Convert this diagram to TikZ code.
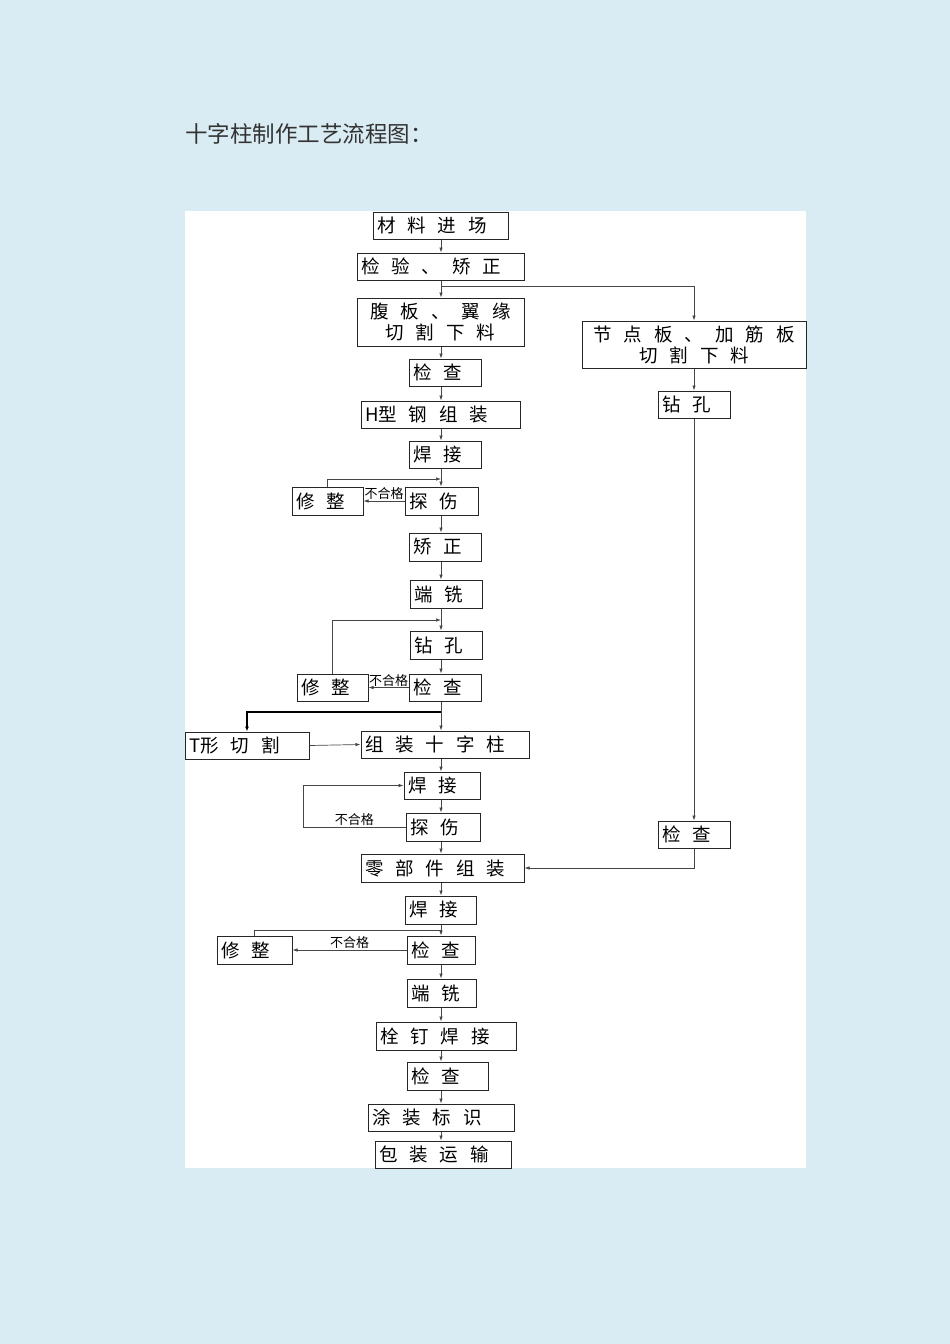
\documentclass[tikz,border=0pt]{standalone}
\usepackage{fontspec}
\newfontfamily\cjk{Noto Sans CJK SC}
\usetikzlibrary{arrows.meta}
\definecolor{pagebg}{RGB}{218,236,243}
\definecolor{linegray}{RGB}{70,70,70}
\newcommand\boxfont{\cjk\fontsize{18.5}{21}\selectfont}
\tikzset{
box/.style={draw=black!85, line width=1pt, align=left, inner xsep=4pt, inner ysep=0pt, minimum height=27pt, font=\boxfont, execute at begin node={\spaceskip=12pt\relax}}, % every step of the flow
flow/.style={draw=linegray, line width=0.7pt, -{Latex[length=5pt,width=3.5pt]}}, % directed connector
link/.style={draw=linegray, line width=0.7pt}, % connector with no tip
fail/.style={font=\cjk\fontsize{13}{13}\selectfont, inner sep=1pt, above}, % rejected label
}

\begin{document}
\begin{tikzpicture}[x=1pt,y=-1pt]
   \fill[pagebg] (0,0) rectangle (950,1344);
   \fill[white] (185,211) rectangle (806,1168);
   \node[anchor=west, inner sep=0pt, text=black!80, font=\cjk\fontsize{22.5}{24}\selectfont] (title) at (185,134) {十字柱制作工艺流程图：};
   \coordinate (spine) at (441,0);
   \coordinate (split) at (441,286);
   \coordinate (back1) at (441,479);
   \coordinate (back2) at (441,620);
   \coordinate (fork) at (441,712);
   \coordinate (loopx) at (303,0);
   \coordinate (back3) at (441,930);
   % main column
   \node[box, text width=127pt] (load) at (440.5,225.5) {材 料 进 场};
   \node[box, text width=159pt] (check0) at (440.5,266.5) {检 验 、 矫 正};
   \node[box, text width=159pt, align=center, minimum height=48pt] (cutweb) at (440.5,322) {腹 板 、 翼 缘\\切 割 下 料};
   \node[box, text width=64pt] (check1) at (445,372.5) {检 查};
   \node[box, text width=151pt] (hbeam) at (440.5,414.5) {H型 钢 组 装};
   \node[box, text width=64pt] (weld1) at (445,454.5) {焊 接};
   \node[box, text width=65pt, minimum height=28pt] (ut1) at (441.5,501) {探 伤};
   \node[box, text width=63pt, minimum height=28pt] (fix1) at (327.5,501) {修 整};
   \node[box, text width=64pt, minimum height=28pt] (straight) at (445,547) {矫 正};
   \node[box, text width=64pt, minimum height=28pt] (mill1) at (446,594) {端 铣};
   \node[box, text width=64pt, minimum height=28pt] (drill1) at (446,645) {钻 孔};
   \node[box, text width=64pt] (check2) at (445,687.5) {检 查};
   \node[box, text width=63pt] (fix2) at (332.5,687.5) {修 整};
   \node[box, text width=116pt] (tcut) at (247,745.5) {T形 切 割};
   \node[box, text width=160pt] (cross) at (445,744.5) {组 装 十 字 柱};
   \node[box, text width=68pt] (weld2) at (442,785.5) {焊 接};
   \node[box, text width=66pt, minimum height=28pt] (ut2) at (443,827) {探 伤};
   \node[box, text width=155pt, minimum height=28pt] (parts) at (442.5,868) {零 部 件 组 装};
   \node[box, text width=63pt, minimum height=28pt] (weld3) at (440.5,910) {焊 接};
   \node[box, text width=60pt, minimum height=28pt] (check4) at (441,950) {检 查};
   \node[box, text width=67pt, minimum height=28pt] (fix3) at (254.5,950) {修 整};
   \node[box, text width=61pt, minimum height=28pt] (mill2) at (441.5,993) {端 铣};
   \node[box, text width=132pt, minimum height=28pt] (stud) at (446,1036) {栓 钉 焊 接};
   \node[box, text width=73pt, minimum height=28pt] (check5) at (447.5,1076) {检 查};
   \node[box, text width=138pt] (paint) at (441,1117.5) {涂 装 标 识};
   \node[box, text width=128pt] (ship) at (443,1154.5) {包 装 运 输};
   % plate column
   \node[box, text width=216pt, align=center, minimum height=47pt] (cutplate) at (694,344.5) {节 点 板 、 加 筋 板\\切 割 下 料};
   \node[box, text width=64pt] (drill2) at (694,404.5) {钻 孔};
   \node[box, text width=64pt] (check3) at (694,834.5) {检 查};
   \foreach \a/\b in {load/check0, check0/cutweb, cutweb/check1, check1/hbeam, hbeam/weld1, weld1/ut1, ut1/straight, straight/mill1, mill1/drill1, drill1/check2, check2/cross, cross/weld2, weld2/ut2, ut2/parts, parts/weld3, weld3/check4, check4/mill2, mill2/stud, stud/check5, check5/paint, paint/ship}
      \draw[flow] (\a.south -| spine) -- (\b.north -| spine);
   \draw[flow] (split) -| (cutplate.north);
   \draw[flow] (cutplate.south) -- (drill2.north);
   \draw[flow] (drill2.south) -- (check3.north);
   \draw[flow] (check3.south) |- (parts.east);
   % repair loops
   \draw[flow] (ut1.west) -- node[fail] {不合格} (fix1.east);
   \draw[flow] (fix1.north) |- (back1);
   \draw[flow] (check2.west) -- node[fail] {不合格} (fix2.east);
   \draw[flow] (fix2.north) |- (back2);
   \draw[draw=black, line width=2pt, -{Latex[length=5pt,width=4pt]}] (fork) -| (tcut.north);
   \draw[flow] (tcut.east) -- (cross.west);
   \draw[flow] (ut2.west) -- node[fail] {不合格} (ut2.west -| loopx) |- (weld2.west);
   \draw[flow] (check4.west) -- node[fail] {不合格} (fix3.east);
   \draw[link] (fix3.north) |- (back3);
\end{tikzpicture}
\end{document}
